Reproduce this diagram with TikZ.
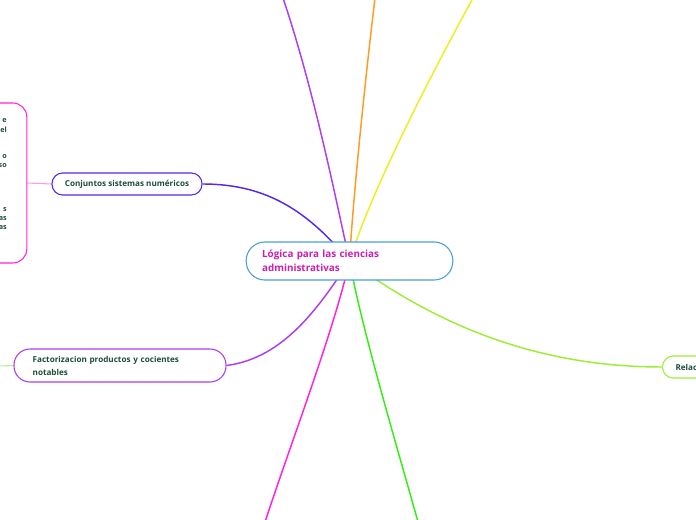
\documentclass[tikz,border=0pt]{standalone}
\usepackage{fontspec}
\setmainfont{Open Sans}
\usetikzlibrary{positioning,backgrounds}

\definecolor{rootline}{HTML}{4A9FD8}
\definecolor{roottext}{HTML}{CC1FAF}
\definecolor{leaftext}{HTML}{1E4D3B}
\definecolor{cblue}{HTML}{5528EE}
\definecolor{cpurple}{HTML}{AE3CF0}
\definecolor{corange}{HTML}{FF9A22}
\definecolor{cyellow}{HTML}{EEEE1C}
\definecolor{cmagenta}{HTML}{FF22DD}
\definecolor{cgreen}{HTML}{33EE11}
\definecolor{clime}{HTML}{9BEE33}
\definecolor{cpink}{HTML}{FF99EE}
\definecolor{cpale}{HTML}{B4F08C}

\begin{document}
\begin{tikzpicture}[
    x=0.75pt, y=-0.75pt,
    central/.style={
        draw=rootline,
        line width=0.8pt,
        fill=white,
        rounded corners=14pt,
        minimum height=28.5pt,
        text width=131pt,
        inner xsep=12pt,
        align=left,
        text=roottext,
        font=\fontsize{7.4}{10.5}\selectfont\bfseries
    },
    topic/.style={
        draw,
        line width=0.8pt,
        fill=white,
        rounded corners=8pt,
        text=leaftext,
        font=\fontsize{6.1}{9.8}\selectfont\bfseries
    },
    fragment/.style={
        inner sep=0pt,
        text=leaftext,
        font=\fontsize{5.4}{6.5}\selectfont\bfseries
    },
    branch/.style={line width=1.1pt},
    twig/.style={line width=0.8pt}
]
\useasboundingbox (0,0) rectangle (696,520);

\node[central] (root) at (349.5,261) {Lógica para las ciencias\\administrativas};

\node[topic, draw=cblue, minimum width=112.5pt, minimum height=16.5pt] (conj) at (127,184) {Conjuntos sistemas numéricos};
\node[topic, draw=cmagenta, rounded corners=10.5pt, minimum width=50pt, minimum height=120pt] (numbox) at (-6.5,183) {};
\node[topic, draw=cpurple, rounded corners=12pt, minimum width=159pt, minimum height=24.75pt,
      text width=131pt, inner xsep=14pt, align=left] (fact) at (120,365.5) {Factorizacion productos y cocientes\\notables};
\node[topic, draw=clime, anchor=west, minimum height=16.5pt, text width=90pt,
      inner xsep=9.75pt, align=left] (relac) at (662,367) {Relac};

% bits of the cut-off box on the left
\node[fragment, anchor=east] (f1) at (7,121) {e};
\node[fragment, anchor=east] (f2) at (7,130) {el};
\node[fragment, anchor=east] (f3) at (7,157) {o};
\node[fragment, anchor=east] (f4) at (7,166) {so};
\node[fragment, anchor=east] (f5) at (7,210) {s};
\node[fragment, anchor=east] (f6) at (7,219) {as};
\node[fragment, anchor=east] (f7) at (7,228) {as};

\coordinate (ptop) at (283,-2);
\coordinate (otop) at (375,-2);
\coordinate (ytop) at (473,-2);
\coordinate (mbot) at (265,522);
\coordinate (gbot) at (418,522);
\coordinate (fleft) at (-2,366);

\begin{pgfonlayer}{background}
\draw[branch, cblue] (conj.east) .. controls (268,184) and (308,212) .. (root.center);
\draw[branch, cpurple] (ptop) .. controls (314,90) and (336,200) .. (root.center);
\draw[branch, corange] (otop) .. controls (364,90) and (353,200) .. (root.center);
\draw[branch, cyellow] (ytop) .. controls (420,95) and (368,200) .. (root.center);
\draw[branch, cpurple] (root.center) .. controls (320,305) and (285,358) .. (fact.east);
\draw[branch, cmagenta] (root.center) .. controls (334,330) and (292,440) .. (mbot);
\draw[branch, cgreen] (root.center) .. controls (362,330) and (398,450) .. (gbot);
\draw[branch, clime] (root.center) .. controls (430,320) and (530,367) .. (relac.west);
\draw[twig, cpink] (numbox.east) -- (conj.west);
\draw[twig, cpale] (fleft) -- (fact.west);
\end{pgfonlayer}
\end{tikzpicture}
\end{document}
